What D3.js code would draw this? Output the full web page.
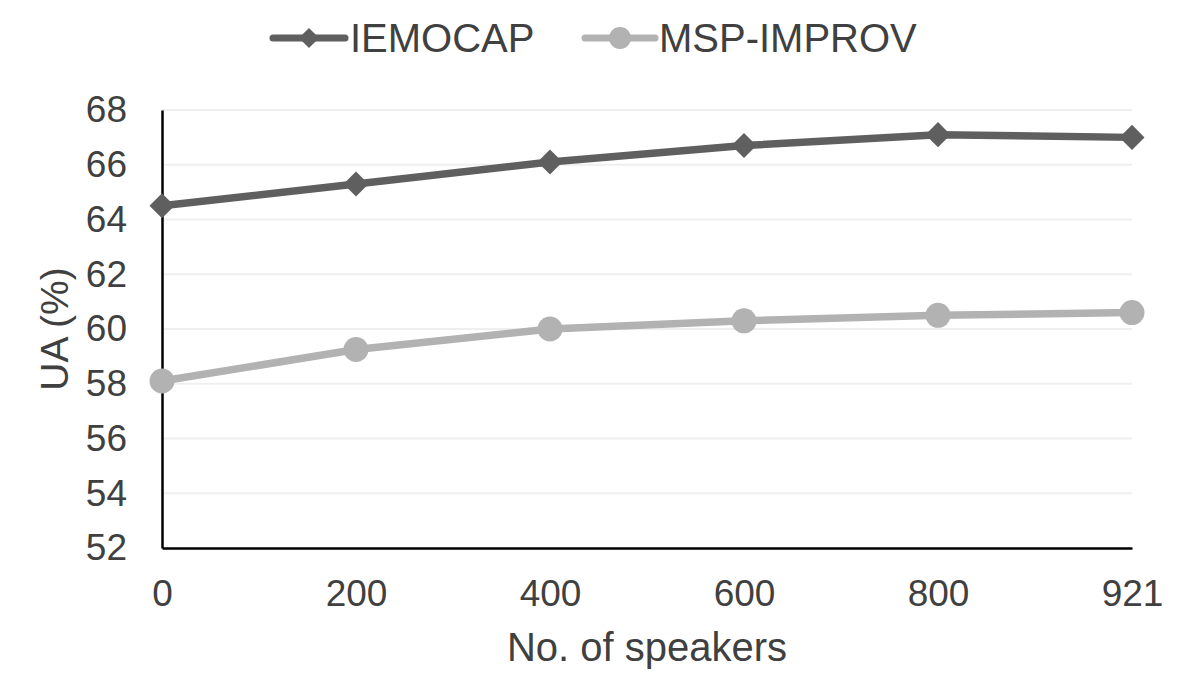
<!DOCTYPE html>
<html>
<head>
<meta charset="utf-8">
<script src="https://cdn.jsdelivr.net/npm/d3@7"></script>
<style>
  html, body { margin: 0; padding: 0; background: #fff; }
  svg { display: block; }
  text { font-family: "Liberation Sans", Arial, sans-serif; fill: #404040; }
</style>
</head>
<body>
<svg id="chart" width="1196" height="700"></svg>
<script>
const categories = ["0", "200", "400", "600", "800", "921"];
const iemocap = [64.5, 65.3, 66.1, 66.7, 67.1, 67.0];
const mspImprov = [58.1, 59.25, 60.0, 60.3, 60.5, 60.6];
const yTicks = [52, 54, 56, 58, 60, 62, 64, 66, 68];
const seriesNames = ["IEMOCAP", "MSP-IMPROV"];
const seriesColors = ["#5f5f5f", "#b2b2b2"];

const svg = d3.select("#chart");
const margin = { left: 162, right: 1196 - 1132, top: 110, bottom: 700 - 548 };
const W = 1196, H = 700;

const x = d3.scalePoint().domain(categories).range([margin.left, W - margin.right]);
const y = d3.scaleLinear().domain([52, 68]).range([H - margin.bottom, margin.top]);

// gridlines
svg.append("g")
  .selectAll("line")
  .data(yTicks.filter(t => t !== 52))
  .join("line")
  .attr("x1", margin.left).attr("x2", W - margin.right)
  .attr("y1", d => y(d)).attr("y2", d => y(d))
  .attr("stroke", "#efefef").attr("stroke-width", 2);

// y axis
const yAxis = svg.append("g")
  .attr("transform", `translate(${margin.left},0)`)
  .call(d3.axisLeft(y).tickValues(yTicks).tickSize(0).tickPadding(35).tickFormat(d3.format("d")));
yAxis.select(".domain").attr("stroke", "#000").attr("stroke-width", 2.5);
yAxis.selectAll("text").style("font-size", "37px").attr("fill", "#404040")
  .style("font-family", "'Liberation Sans', Arial, sans-serif");

// x axis
const xAxis = svg.append("g")
  .attr("transform", `translate(0,${H - margin.bottom})`)
  .call(d3.axisBottom(x).tickSize(0).tickPadding(32));
xAxis.select(".domain").attr("stroke", "#000").attr("stroke-width", 2.5);
xAxis.selectAll("text").style("font-size", "37px").attr("fill", "#404040")
  .style("font-family", "'Liberation Sans', Arial, sans-serif");

// axis titles
svg.append("text")
  .attr("x", (margin.left + W - margin.right) / 2)
  .attr("y", 661)
  .attr("text-anchor", "middle")
  .style("font-size", "40px")
  .text("No. of speakers");

svg.append("text")
  .attr("transform", `translate(68,${(margin.top + H - margin.bottom) / 2}) rotate(-90)`)
  .attr("text-anchor", "middle")
  .style("font-size", "39px")
  .text("UA (%)");

const line = d3.line().x((d, i) => x(categories[i])).y(d => y(d));
const diamond = d3.symbol().type(d3.symbolDiamond2).size(400);

// MSP-IMPROV
svg.append("path").datum(mspImprov)
  .attr("d", line).attr("fill", "none")
  .attr("stroke", seriesColors[1]).attr("stroke-width", 7.5)
  .attr("stroke-linejoin", "round");
svg.append("g").selectAll("circle").data(mspImprov).join("circle")
  .attr("cx", (d, i) => x(categories[i])).attr("cy", d => y(d))
  .attr("r", 12.5).attr("fill", seriesColors[1]);

// IEMOCAP
svg.append("path").datum(iemocap)
  .attr("d", line).attr("fill", "none")
  .attr("stroke", seriesColors[0]).attr("stroke-width", 7.5)
  .attr("stroke-linejoin", "round");
svg.append("g").selectAll("path").data(iemocap).join("path")
  .attr("transform", (d, i) => `translate(${x(categories[i])},${y(d)})`)
  .attr("d", diamond).attr("fill", seriesColors[0]);

// legend
const legend = svg.append("g");
const legendItems = [
  { name: seriesNames[0], color: seriesColors[0], x0: 273, x1: 345, tx: 350, marker: "diamond" },
  { name: seriesNames[1], color: seriesColors[1], x0: 585, x1: 655, tx: 659, marker: "circle" }
];
const ly = 38;
legendItems.forEach(it => {
  legend.append("line")
    .attr("x1", it.x0).attr("x2", it.x1).attr("y1", ly).attr("y2", ly)
    .attr("stroke", it.color).attr("stroke-width", 7).attr("stroke-linecap", "round");
  if (it.marker === "diamond") {
    legend.append("path")
      .attr("transform", `translate(${(it.x0 + it.x1) / 2},${ly})`)
      .attr("d", d3.symbol().type(d3.symbolDiamond2).size(260)).attr("fill", it.color);
  } else {
    legend.append("circle")
      .attr("cx", (it.x0 + it.x1) / 2).attr("cy", ly).attr("r", 11).attr("fill", it.color);
  }
  legend.append("text")
    .attr("x", it.tx).attr("y", ly + 14)
    .style("font-size", "40px")
    .attr("fill", "#262626")
    .text(it.name);
});
</script>
</body>
</html>
